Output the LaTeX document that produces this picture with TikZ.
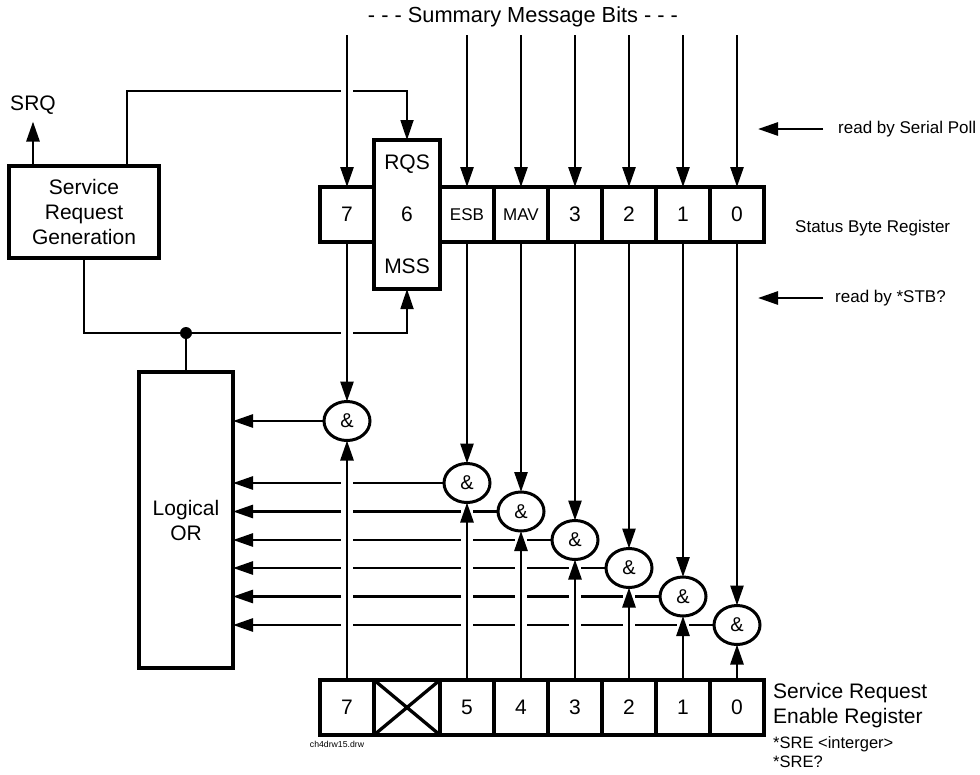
\documentclass[tikz,border=0pt]{standalone}
\usepackage{fontspec}
\setmainfont{Liberation Sans}
\usepackage{tikz}
\usetikzlibrary{arrows.meta,positioning,shapes.geometric,backgrounds}

\newcommand{\bigtxt}{\fontsize{21}{25}\selectfont}
\newcommand{\ttltxt}{\fontsize{21.8}{25}\selectfont}
\newcommand{\midtxt}{\fontsize{17}{20}\selectfont}
\newcommand{\andtxt}{\fontsize{20}{22}\selectfont}
\newcommand{\cmdtxt}{\fontsize{16.5}{19}\selectfont}
\newcommand{\tinytxt}{\fontsize{8.7}{10}\selectfont}

\begin{document}
\begin{tikzpicture}[
  x=1pt, y=-1pt,
  reg/.style={draw, line width=3.3pt, minimum width=54pt, minimum height=55pt, inner sep=0pt, outer sep=0pt, fill=white, font=\bigtxt},
  blk/.style={draw, line width=3.3pt, align=center, inner sep=0pt, outer sep=0pt, fill=white, font=\bigtxt},
  gate/.style={draw, ellipse, line width=3pt, minimum width=46pt, minimum height=39pt, inner sep=0pt, outer sep=0pt, fill=white, font=\andtxt},
  lbl/.style={inner sep=0pt, anchor=west},
  sig/.style={line width=2.7pt},
  wire/.style={line width=1.8pt},
  halo/.style={draw=white, line width=12pt},
  arr/.style={-{Triangle[length=20pt,width=13pt]}}
]
  \useasboundingbox (0,0) rectangle (980,774);

  % status byte register
  \node[reg] (s7) at (347,214.5) {7};
  \node[reg, minimum width=66pt, minimum height=149pt, align=center, right=0pt of s7] (s6) {RQS\\[27pt]6\\[27pt]MSS};
  \node[reg, font=\midtxt, right=0pt of s6] (s5) {ESB};
  \node[reg, font=\midtxt, right=0pt of s5] (s4) {MAV};
  \node[reg, right=0pt of s4] (s3) {3};
  \node[reg, right=0pt of s3] (s2) {2};
  \node[reg, right=0pt of s2] (s1) {1};
  \node[reg, right=0pt of s1] (s0) {0};

  % service request enable register
  \node[reg] (e7) at (347,707.5) {7};
  \node[reg, minimum width=66pt, right=0pt of e7] (eX) {};
  \node[reg, right=0pt of eX] (e5) {5};
  \node[reg, right=0pt of e5] (e4) {4};
  \node[reg, right=0pt of e4] (e3) {3};
  \node[reg, right=0pt of e3] (e2) {2};
  \node[reg, right=0pt of e2] (e1) {1};
  \node[reg, right=0pt of e1] (e0) {0};
  \draw[line width=3.3pt] (eX.north west) -- (eX.south east) (eX.south west) -- (eX.north east);

  % and gates
  \node[gate] (g7) at (347,421) {\&};
  \node[gate] (g5) at (467,483) {\&};
  \node[gate] (g4) at (521,511.5) {\&};
  \node[gate] (g3) at (575,540) {\&};
  \node[gate] (g2) at (629,568) {\&};
  \node[gate] (g1) at (683,596.5) {\&};
  \node[gate] (g0) at (737,625) {\&};

  \node[blk, minimum width=150pt, minimum height=92pt] (srg) at (84,212) {Service\\Request\\Generation};
  \node[blk, minimum width=94pt, minimum height=296pt] (lor) at (186,520) {Logical\\OR};
  \node[circle, fill, inner sep=0pt, minimum size=12pt] (jn) at (186,333) {};

  % labels
  \node[inner sep=0pt, font=\ttltxt] (title) at (523,17) {- - - Summary Message Bits - - -};
  \node[inner sep=0pt, font=\bigtxt] (srq) at (33,105) {SRQ};
  \node[lbl, font=\midtxt] (poll) at (838,129) {read by Serial Poll};
  \node[lbl, font=\midtxt] (sbr) at (795,228) {Status Byte Register};
  \node[lbl, font=\midtxt] (stb) at (835,298) {read by *STB?};
  \node[lbl, font=\bigtxt, align=left] (srelbl) at (773,705.5) {Service Request\\Enable Register};
  \node[lbl, font=\cmdtxt, align=left] (srecmd) at (773,752.5) {*SRE <interger>\\*SRE?};
  \node[inner sep=0pt, font=\tinytxt] (fname) at (337,744) {ch4drw15.drw};

  \coordinate (top) at (0,35);
  \coordinate (bend) at (127,91);

  \begin{scope}[on background layer]
    \draw[sig, arr, shorten >=7pt] (srg.north -| srq.south) -- (srq.south);
    \draw[wire, arr] (srg.north -| bend) -- (bend) -| (s6.north);
    \draw[wire] (srg.south) |- (jn.center);
    \draw[wire, arr] (jn.center) -| (s6.south);
    \draw[sig] (jn.center) -- (lor.north);
    \draw[sig, arr, shorten <=15pt, shorten >=-6pt] (poll.west) -- (poll.west -| s0.east);
    \draw[sig, arr, shorten <=12pt, shorten >=-6pt] (stb.west) -- (stb.west -| s0.east);
    \foreach \c in {7,5,4,3,2,1,0}
      \draw[sig, arr] (g\c.west) -- (g\c.west -| lor.east);
    \foreach \c in {7,5,4,3,2,1,0} {
      \draw[halo] (top -| s\c.north) -- (s\c.north);
      \draw[sig, arr] (top -| s\c.north) -- (s\c.north);
      \draw[halo] (s\c.south) -- (g\c.north);
      \draw[sig, arr] (s\c.south) -- (g\c.north);
      \draw[halo] (e\c.north) -- (g\c.south);
      \draw[sig, arr] (e\c.north) -- (g\c.south);
    }
  \end{scope}
\end{tikzpicture}
\end{document}
